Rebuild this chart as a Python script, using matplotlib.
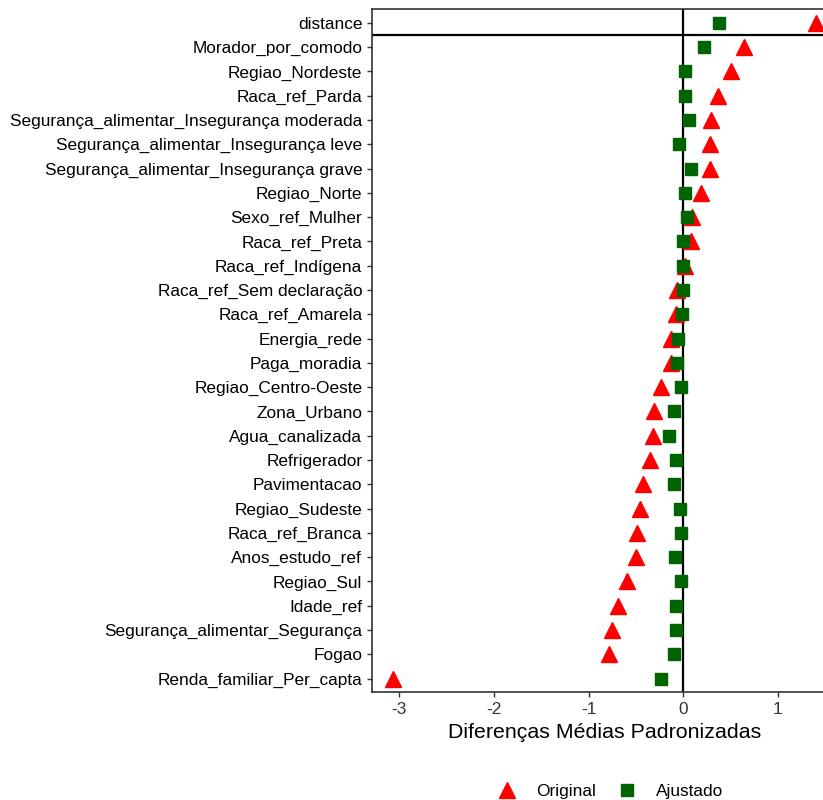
import numpy as np
import matplotlib
matplotlib.use("Agg")
import matplotlib.pyplot as plt

plt.rcParams["font.family"] = ["Liberation Sans", "DejaVu Sans"]

# Covariates (top to bottom)
covariates = [
    "distance", "Morador_por_comodo", "Regiao_Nordeste", "Raca_ref_Parda",
    "Segurança_alimentar_Insegurança moderada", "Segurança_alimentar_Insegurança leve",
    "Segurança_alimentar_Insegurança grave", "Regiao_Norte", "Sexo_ref_Mulher",
    "Raca_ref_Preta", "Raca_ref_Indígena", "Raca_ref_Sem declaração", "Raca_ref_Amarela",
    "Energia_rede", "Paga_moradia", "Regiao_Centro-Oeste", "Zona_Urbano",
    "Agua_canalizada", "Refrigerador", "Pavimentacao", "Regiao_Sudeste",
    "Raca_ref_Branca", "Anos_estudo_ref", "Regiao_Sul", "Idade_ref",
    "Segurança_alimentar_Segurança", "Fogao", "Renda_familiar_Per_capta",
]
original = [1.41, 0.64, 0.51, 0.37, 0.30, 0.28, 0.28, 0.19, 0.09, 0.08, 0.02,
            -0.06, -0.08, -0.13, -0.13, -0.23, -0.31, -0.32, -0.35, -0.42,
            -0.46, -0.49, -0.50, -0.59, -0.69, -0.75, -0.78, -3.07]
ajustado = [0.38, 0.22, 0.02, 0.02, 0.06, -0.04, 0.08, 0.02, 0.04, 0.0, 0.0,
            0.0, -0.01, -0.05, -0.06, -0.02, -0.10, -0.15, -0.07, -0.10,
            -0.03, -0.02, -0.09, -0.02, -0.08, -0.08, -0.10, -0.23]

n = len(covariates)
ypos = np.arange(n)[::-1]

fig = plt.figure(figsize=(8.23, 8.0), dpi=100)
ax = fig.add_axes([0.452, 0.135, 0.548, 0.854])

ax.axvline(0, color="black", lw=1.6, zorder=1)
ax.axhline(ypos[0] - 0.5, color="black", lw=1.6, zorder=1)

ax.plot(original, ypos, linestyle="none", marker="^", ms=11, color="#FF0000",
        label="Original", zorder=3)
ax.plot(ajustado, ypos, linestyle="none", marker="s", ms=9, color="#006400",
        label="Ajustado", zorder=4)

ax.set_xlim(-3.29, 1.48)
ax.set_ylim(-0.55, n - 1 + 0.58)
ax.set_yticks(ypos)
ax.set_yticklabels(covariates, fontsize=12.4, color="black")
ax.set_xticks([-3, -2, -1, 0, 1])
ax.set_xticklabels(["-3", "-2", "-1", "0", "1"], fontsize=12.4, color="#333333")
ax.tick_params(axis="both", length=3.5, width=1, color="#333333")
ax.set_xlabel("Diferenças Médias Padronizadas", fontsize=15.4)
ax.xaxis.set_label_coords(0.515, -0.046, transform=ax.transAxes)
ax.xaxis.label.set_va("top")

for side in ["left", "bottom", "top"]:
    ax.spines[side].set_color("#333333")
    ax.spines[side].set_linewidth(1.2)
ax.spines["right"].set_visible(False)

fig.legend(loc="lower center", bbox_to_anchor=(0.742, -0.018), ncol=2,
           frameon=False, fontsize=12.4, handlelength=1.0, handletextpad=1.2,
           columnspacing=1.3)

fig.savefig("out.png", dpi=100)
